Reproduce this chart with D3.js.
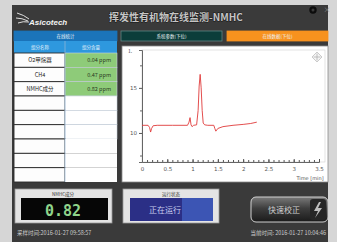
<!DOCTYPE html>
<html>
<head>
<meta charset="utf-8">
<script src="https://cdn.jsdelivr.net/npm/d3@7"></script>
<style>
  html, body { margin: 0; padding: 0; background: #d6d6d6; }
  svg { display: block; }
  text { font-family: "Noto Sans CJK SC", "Noto Sans", sans-serif; }
</style>
</head>
<body>
<svg id="viz" width="337" height="242"></svg>
<script>
// chromatogram trace (time in min, signal)
var traceTime = [0, 0.12, 0.15, 0.17, 0.19, 0.22, 0.3, 0.6, 0.9, 0.93, 0.95, 0.97, 0.99, 1.02, 1.08, 1.11, 1.13, 1.15, 1.17, 1.19, 1.21, 1.24, 1.3, 1.42, 1.44, 1.46, 1.5, 1.6, 1.8, 2.0, 2.15, 2.27];
var traceValue = [10.85, 10.85, 10.6, 10.1, 10.5, 10.8, 10.85, 10.85, 10.85, 11.2, 11.7, 10.9, 10.7, 10.85, 10.9, 12.5, 15.2, 16.5, 15.0, 12.5, 11.1, 10.9, 10.85, 10.85, 10.5, 10.2, 10.5, 10.7, 10.85, 10.95, 11.05, 11.2];
var xTickLabels = ["0", "0.5", "1", "1.5", "2", "2.5", "3", "3.5"];
var yTickLabels = ["10", "15"];

// table
var compNames = ["O2甲烷器", "CH4", "NMHC成分"];
var compValues = ["0.04 ppm", "0.47 ppm", "0.82 ppm"];
var tabLabels = ["在线统计", "系统参数(下位)", "在线数据(下位)"];
var nmhcValue = "0.82";
var runState = "正在运行";
var sampleTime = "采样时间:2016-01-27 09:58:57";
var nowTime = "当前时间: 2016-01-27 10:04:46";

var svg = d3.select('#viz');
var defs = svg.append('defs');
var grad = defs.append('linearGradient').attr('id', 'btn').attr('x1', 0).attr('y1', 0).attr('x2', 0).attr('y2', 1);
grad.append('stop').attr('offset', '0%').attr('stop-color', '#7a7a7a');
grad.append('stop').attr('offset', '45%').attr('stop-color', '#3e3e3e');
grad.append('stop').attr('offset', '100%').attr('stop-color', '#1a1a1a');

// main dark panel
svg.append('rect').attr('x', 12).attr('y', 5).attr('width', 316).attr('height', 237).style('fill', '#3a3a3a');

// logo
svg.append('path').attr('d', 'M17,13 Q24,15 29,19 M16,18 Q22,18 28,21 M18,23 Q23,21 29,22')
  .style('fill', 'none').style('stroke', '#f0f0f0').style('stroke-width', 0.9);
svg.append('text').attr('x', 29).attr('y', 25).text('Asicotech')
  .style('font-family', 'Liberation Sans, sans-serif').style('font-size', '8px')
  .style('font-weight', 'bold').style('font-style', 'italic').style('fill', '#f4f4f4');

// title
svg.append('text').attr('x', 176).attr('y', 21).attr('text-anchor', 'middle')
  .text('挥发性有机物在线监测-NMHC')
  .style('font-size', '10px').style('font-weight', 'bold').style('fill', '#c4c4c4')
  .style('stroke', '#151515').style('stroke-width', 0.8).style('paint-order', 'stroke');

// gear and close
svg.append('circle').attr('cx', 313).attr('cy', 10).attr('r', 2.6)
  .style('fill', 'none').style('stroke', '#0c0c0c').style('stroke-width', 2.2);
svg.append('text').attr('x', 327).attr('y', 12).attr('text-anchor', 'middle').text('×')
  .style('font-size', '7px').style('fill', '#8a8a8a');

// tabs
var tabX = [14, 121, 227];
var tabW = [103, 101, 101];
var tabFill = ['#1b74ba', '#0c3d3a', '#f7921e'];
var tabStroke = ['#1b74ba', '#5f8584', '#f7921e'];
tabLabels.forEach(function(t, i) {
  svg.append('rect').attr('x', tabX[i]).attr('y', 31).attr('width', tabW[i]).attr('height', 10)
    .style('fill', tabFill[i]).style('stroke', tabStroke[i]).style('stroke-width', 0.8);
  svg.append('text').attr('x', tabX[i] + tabW[i] / 2).attr('y', 38).attr('text-anchor', 'middle')
    .text(t).style('font-size', '4.5px').style('fill', '#eef4f8');
});

// table
svg.append('rect').attr('x', 14).attr('y', 41).attr('width', 103).attr('height', 12).style('fill', '#2e98de');
svg.append('text').attr('x', 40).attr('y', 49).attr('text-anchor', 'middle').text('组分名称')
  .style('font-size', '4.5px').style('fill', '#e6f2fb');
svg.append('text').attr('x', 91).attr('y', 49).attr('text-anchor', 'middle').text('组分含量')
  .style('font-size', '4.5px').style('fill', '#e6f2fb');

var rowCount = 9;
var rowY = d3.scaleBand().domain(d3.range(rowCount)).range([53, 182]);
d3.range(rowCount).forEach(function(i) {
  var y = rowY(i), h = rowY.bandwidth();
  svg.append('rect').attr('x', 14).attr('y', y).attr('width', 51).attr('height', h)
    .style('fill', '#fdfdfd').style('stroke', '#2a2a2a').style('stroke-width', 0.9);
  svg.append('rect').attr('x', 65).attr('y', y).attr('width', 52).attr('height', h)
    .style('fill', i < compValues.length ? '#8ecb79' : '#ffffff')
    .style('stroke', i < 6 ? '#c8d3de' : 'none').style('stroke-width', 0.6);
  if (i < compNames.length) {
    svg.append('text').attr('x', 40).attr('y', y + h / 2 + 2).attr('text-anchor', 'middle')
      .text(compNames[i]).style('font-size', '5.5px').style('fill', '#222');
    svg.append('text').attr('x', 111).attr('y', y + h / 2 + 2).attr('text-anchor', 'end')
      .text(compValues[i]).style('font-size', '5.5px').style('fill', '#2a3a22');
  }
});
svg.append('line').attr('x1', 65).attr('x2', 65).attr('y1', 41).attr('y2', 182)
  .style('stroke', '#9ab8d6').style('stroke-width', 0.7);

// chart panel
svg.append('rect').attr('x', 122).attr('y', 46).attr('width', 206).attr('height', 136)
  .style('fill', '#ffffff').style('stroke', '#8a8a8a').style('stroke-width', 0.8);

var x = d3.scaleLinear().domain([0, 3.5]).range([142, 319]);
var y = d3.scaleLinear().domain([6.78, 19.2]).range([162, 50]);

svg.append('rect').attr('x', 142).attr('y', 50).attr('width', 183).attr('height', 112)
  .style('fill', 'none').style('stroke', '#cfcfcf').style('stroke-width', 0.6);

// minor x ticks
svg.append('g').attr('transform', 'translate(0,162)')
  .call(d3.axisBottom(x).tickValues(d3.range(0, 36).map(function(d) { return d / 10; }))
    .tickSize(-2).tickFormat(''))
  .call(function(g) { g.select('.domain').remove(); g.selectAll('line').style('stroke', '#555'); });
// major x ticks
var xAxis = svg.append('g').attr('transform', 'translate(0,162)')
  .call(d3.axisBottom(x).tickValues(xTickLabels.map(Number)).tickSize(-3)
    .tickFormat(function(d, i) { return xTickLabels[i]; }).tickPadding(5));
xAxis.select('.domain').style('stroke', '#666');
xAxis.selectAll('line').style('stroke', '#555');
xAxis.selectAll('text').style('font-size', '5.5px').style('fill', '#555').style('font-family', 'DejaVu Sans, sans-serif');

// y axis
svg.append('g').attr('transform', 'translate(142,0)')
  .call(d3.axisLeft(y).tickValues([7.5, 12.5, 17.5]).tickSize(2).tickFormat(''))
  .call(function(g) { g.select('.domain').remove(); g.selectAll('line').style('stroke', '#666'); });
var yAxis = svg.append('g').attr('transform', 'translate(142,0)')
  .call(d3.axisLeft(y).tickValues(yTickLabels.map(Number)).tickSize(3)
    .tickFormat(function(d, i) { return yTickLabels[i]; }).tickPadding(2));
yAxis.select('.domain').style('stroke', '#666');
yAxis.selectAll('line').style('stroke', '#555');
yAxis.selectAll('text').style('font-size', '5.5px').style('fill', '#555').style('font-family', 'DejaVu Sans, sans-serif');

svg.append('text').attr('x', 128).attr('y', 53).text('1.').style('font-size', '5px').style('fill', '#444');
svg.append('text').attr('x', 310).attr('y', 179.5).attr('text-anchor', 'middle').text('Time [min]')
  .style('font-size', '5px').style('fill', '#555').style('font-family', 'DejaVu Sans, sans-serif');

// zoom icon
var zi = svg.append('g').attr('transform', 'translate(317,57)');
zi.append('path').attr('d', 'M0,-5 L5,0 L0,5 L-5,0 Z').style('fill', '#f4f4f4').style('stroke', '#b8b8b8').style('stroke-width', 0.7);
zi.append('path').attr('d', 'M0,-3.5 V3.5 M-3.5,0 H3.5').style('stroke', '#aaa').style('stroke-width', 0.7);

// trace
var trace = traceTime.map(function(t, i) { return [t, traceValue[i]]; });
svg.append('path').datum(trace)
  .attr('d', d3.line().x(function(d) { return x(d[0]); }).y(function(d) { return y(d[1]); }))
  .style('fill', 'none').style('stroke', '#e03a3a').style('stroke-width', 0.9);

// NMHC display
svg.append('rect').attr('x', 15).attr('y', 189).attr('width', 97).attr('height', 34)
  .style('fill', '#e4e4e4').style('stroke', '#9a9a9a').style('stroke-width', 0.8);
svg.append('text').attr('x', 63).attr('y', 196).attr('text-anchor', 'middle').text('NMHC成分')
  .style('font-size', '4.5px').style('fill', '#333');
svg.append('rect').attr('x', 21).attr('y', 198).attr('width', 87).attr('height', 22).style('fill', '#060606');
svg.append('text').attr('x', 63).attr('y', 215.5).attr('text-anchor', 'middle').text(nmhcValue)
  .style('font-family', 'DejaVu Sans Mono, monospace').style('font-weight', 'bold')
  .style('font-size', '15px').style('fill', '#8fd38b');

// run state
svg.append('rect').attr('x', 123).attr('y', 189).attr('width', 96).attr('height', 34)
  .style('fill', '#e4e4e4').style('stroke', '#9a9a9a').style('stroke-width', 0.8);
svg.append('text').attr('x', 171).attr('y', 196).attr('text-anchor', 'middle').text('运行状态')
  .style('font-size', '4.5px').style('fill', '#333');
svg.append('rect').attr('x', 130).attr('y', 198).attr('width', 83).attr('height', 23).style('fill', '#2b2f86');
svg.append('rect').attr('x', 182).attr('y', 198).attr('width', 31).attr('height', 23).style('fill', '#3c55b4');
svg.append('text').attr('x', 165).attr('y', 213).attr('text-anchor', 'middle').text(runState)
  .style('font-size', '8px').style('fill', '#c9cdee');

// quick calibration button
svg.append('rect').attr('x', 251).attr('y', 197).attr('width', 77).attr('height', 25).attr('rx', 5)
  .style('fill', 'url(#btn)').style('stroke', '#d0d0d0').style('stroke-width', 1);
svg.append('rect').attr('x', 310).attr('y', 199).attr('width', 16).attr('height', 21).attr('rx', 3)
  .style('fill', '#262626');
svg.append('text').attr('x', 284).attr('y', 213).attr('text-anchor', 'middle').text('快速校正')
  .style('font-size', '8px').style('fill', '#cfcfcf');
svg.append('path').attr('d', 'M319,202 L314,211 L318,211 L315,218 L322,208 L318,208 L321,202 Z')
  .style('fill', '#bdbdbd');

// footer times
svg.append('text').attr('x', 17).attr('y', 235).text(sampleTime)
  .style('font-size', '5.5px').style('fill', '#cccccc');
svg.append('text').attr('x', 326).attr('y', 235).attr('text-anchor', 'end').text(nowTime)
  .style('font-size', '5.5px').style('fill', '#cccccc');
</script>
</body>
</html>
